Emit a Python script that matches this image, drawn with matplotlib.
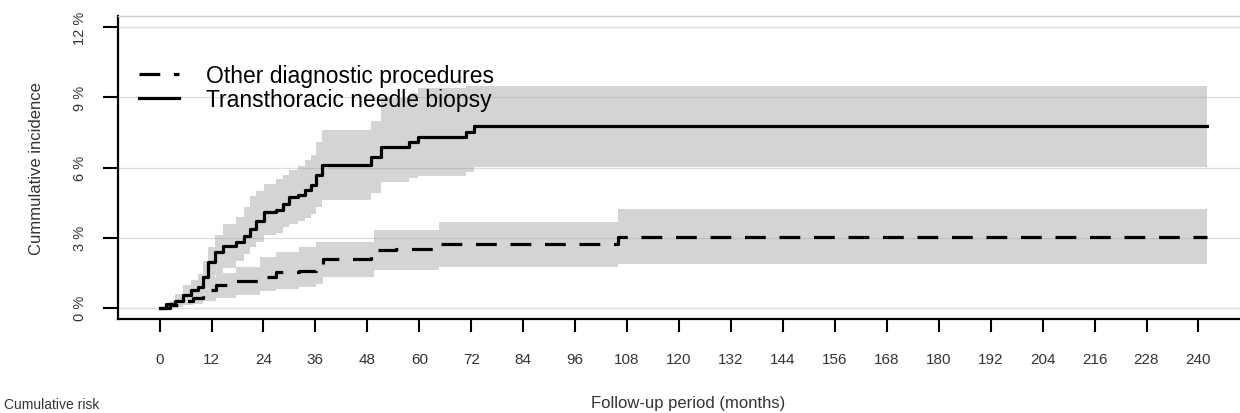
import numpy as np
import matplotlib.pyplot as plt

plt.rcParams['font.family'] = ['Liberation Sans', 'DejaVu Sans']

# cumulative incidence (%), step functions in months
t_ttnb = [0, 1.5, 3.5, 5.4, 7.3, 8.8, 10, 11.2, 12.7, 14.6, 17.7, 19.6, 20.8,
          22.3, 24.2, 26.9, 28.5, 30, 31.9, 33.5, 35, 36.2, 37.5, 48.8, 51.2,
          57.7, 59.6, 70.8, 72.7, 242]
est_ttnb = [0, 0.15, 0.31, 0.56, 0.74, 0.89, 1.31, 1.96, 2.39, 2.63, 2.81, 3.07,
            3.39, 3.70, 4.10, 4.17, 4.46, 4.74, 4.81, 5.03, 5.24, 5.67, 6.12,
            6.46, 6.89, 7.10, 7.31, 7.53, 7.77, 7.77]
lo_ttnb = [0, 0, 0.05, 0.15, 0.3, 0.45, 0.6, 1.0, 1.4, 1.7, 2.0, 2.3, 2.6, 2.8,
           3.1, 3.2, 3.45, 3.6, 3.7, 3.85, 4.0, 4.3, 4.6, 4.9, 5.4, 5.55, 5.65,
           5.8, 6.03, 6.03]
hi_ttnb = [0, 0.2, 0.6, 0.96, 1.2, 1.46, 2.0, 2.6, 3.1, 3.6, 3.9, 4.3, 4.8, 5.0,
           5.3, 5.5, 5.7, 5.9, 6.05, 6.3, 6.55, 7.1, 7.6, 8.0, 8.96, 9.2, 9.4,
           9.5, 9.5, 9.5]

t_other = [0, 2.5, 4.5, 5.4, 7.7, 10, 13.1, 17.7, 23.1, 26.9, 32.3, 36.2, 37.7,
           48.8, 49.5, 54.6, 64.6, 105.8, 242]
est_other = [0, 0.1, 0.25, 0.31, 0.41, 0.74, 0.96, 1.13, 1.31, 1.53, 1.56, 1.81,
             2.1, 2.24, 2.46, 2.53, 2.71, 3.03, 3.03]
lo_other = [0, 0, 0.05, 0.1, 0.15, 0.3, 0.4, 0.53, 0.7, 0.8, 0.9, 1.03, 1.31,
            1.31, 1.6, 1.6, 1.74, 1.89, 1.89]
hi_other = [0, 0.3, 0.6, 0.7, 0.85, 1.31, 1.5, 1.74, 2.17, 2.4, 2.6, 2.81, 2.81,
            2.81, 3.31, 3.31, 3.67, 4.24, 4.24]

x_ticks = np.arange(0, 241, 12)
y_ticks = [0, 3, 6, 9, 12]

fig = plt.figure(figsize=(12.4, 4.14), dpi=100)
ax = fig.add_axes([118/1240, 94/414, 1122/1240, 303/414])

band = '#d4d4d4'
ax.fill_between(t_other, lo_other, hi_other, step='post', color=band, lw=0, zorder=1)
ax.fill_between(t_ttnb, lo_ttnb, hi_ttnb, step='post', color=band, lw=0, zorder=1)
for y in y_ticks:
    ax.axhline(y, color='#909090', alpha=0.3, lw=0.9, zorder=2)

ax.plot(t_other, est_other, drawstyle='steps-post', color='black', lw=2.3,
        dashes=(6.5, 4.3), dash_capstyle='butt', zorder=3,
        label='Other diagnostic procedures')
ax.plot(t_ttnb, est_ttnb, drawstyle='steps-post', color='black', lw=2.3,
        zorder=3, label='Transthoracic needle biopsy')

ax.set_xlim(-9.6, 249.6)
ax.set_ylim(-0.48, 12.48)
ax.set_xticks(x_ticks)
ax.set_xticklabels([str(v) for v in x_ticks], fontsize=11, color='#333333')
ax.set_yticks(y_ticks)
ax.set_yticklabels(['%d %%' % v for v in y_ticks], fontsize=10.5, rotation=90,
                   va='center', color='#333333')
ax.tick_params(axis='x', length=9.5, width=1.5, pad=14)
ax.tick_params(axis='y', length=11, width=1.5, pad=11)

for s in ['left', 'bottom']:
    ax.spines[s].set_linewidth(1.6)
ax.spines['top'].set_color('#cccccc')
ax.spines['top'].set_linewidth(1)
ax.spines['right'].set_visible(False)

ax.set_ylabel('Cummulative incidence', fontsize=12, color='#333333')
ax.yaxis.set_label_coords(-0.066, 0.5)
ax.set_xlabel('Follow-up period (months)', fontsize=12, color='#333333')
ax.xaxis.set_label_coords(0.508, -0.25)

ax.legend(loc='upper left', bbox_to_anchor=(0.0, 0.91), frameon=False,
          fontsize=16.5, handlelength=1.75, handletextpad=1.2, labelspacing=0.05,
          borderaxespad=0.5)

fig.text(4/1240, 2/414, 'Cumulative risk', ha='left', va='bottom',
         fontsize=10, color='#333333')

fig.savefig('out.png', dpi=100)
